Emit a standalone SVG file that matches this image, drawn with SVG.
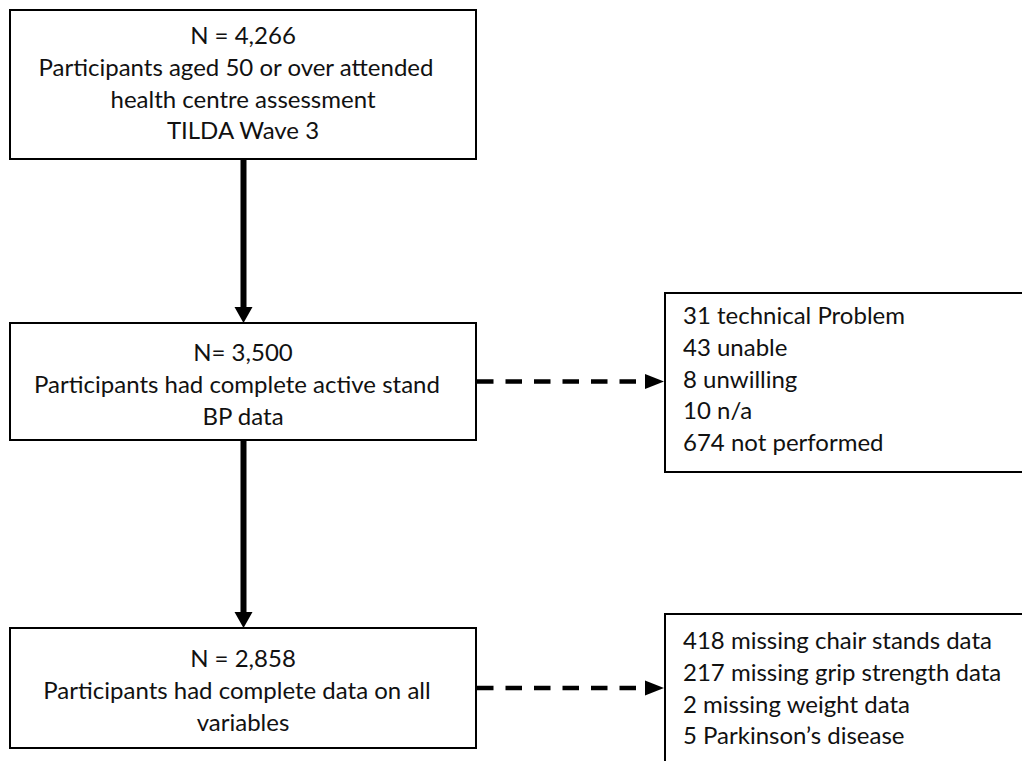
<svg xmlns="http://www.w3.org/2000/svg" width="1022" height="761" viewBox="0 0 1022 761">
<style>
.box{fill:#fff;stroke:#000;stroke-width:2}
.t{font-family:Lato,"Liberation Sans",sans-serif;font-size:24px;fill:#111}
.c{text-anchor:middle}
.solid{stroke:#000;stroke-width:6;fill:none}
.dash{stroke:#000;stroke-width:4.5;fill:none;stroke-dasharray:16.5 12}
</style>
<rect width="1022" height="761" fill="#fff"/>
<g id="connectors">
<line class="solid" x1="243.5" y1="160" x2="243.5" y2="309"/>
<polygon points="234.5,307 252.5,307 243.5,323"/>
<line class="solid" x1="243.5" y1="441" x2="243.5" y2="614"/>
<polygon points="234.5,612 252.5,612 243.5,628"/>
<line class="dash" x1="477" y1="381.5" x2="646" y2="381.5"/>
<polygon points="645,374 645,389 664,381.5"/>
<line class="dash" x1="477" y1="688" x2="646" y2="688"/>
<polygon points="645,680.5 645,695.5 664,688"/>
</g>
<g id="n1">
<rect class="box" x="10" y="10" width="466" height="149"/>
<text class="t c" x="243" y="44">N = 4,266</text>
<text class="t c" x="236" y="76">Participants aged 50 or over attended</text>
<text class="t c" x="243" y="108">health centre assessment</text>
<text class="t c" x="243" y="139">TILDA Wave 3</text>
</g>
<g id="n2">
<rect class="box" x="10" y="323" width="466" height="117"/>
<text class="t c" x="243" y="361">N= 3,500</text>
<text class="t c" x="237" y="393">Participants had complete active stand</text>
<text class="t c" x="243" y="425">BP data</text>
</g>
<g id="n3">
<rect class="box" x="665" y="293" width="366" height="179"/>
<text class="t" x="683" y="324">31 technical Problem</text>
<text class="t" x="683" y="356">43 unable</text>
<text class="t" x="683" y="388">8 unwilling</text>
<text class="t" x="683" y="419">10 n/a</text>
<text class="t" x="683" y="451">674 not performed</text>
</g>
<g id="n4">
<rect class="box" x="10" y="628" width="466" height="120"/>
<text class="t c" x="243" y="667">N = 2,858</text>
<text class="t c" x="237" y="699">Participants had complete data on all</text>
<text class="t c" x="243" y="731">variables</text>
</g>
<g id="n5">
<rect class="box" x="665" y="614" width="366" height="160"/>
<text class="t" x="683" y="649">418 missing chair stands data</text>
<text class="t" x="683" y="681">217 missing grip strength data</text>
<text class="t" x="683" y="713">2 missing weight data</text>
<text class="t" x="683" y="744">5 Parkinson’s disease</text>
</g>
</svg>
